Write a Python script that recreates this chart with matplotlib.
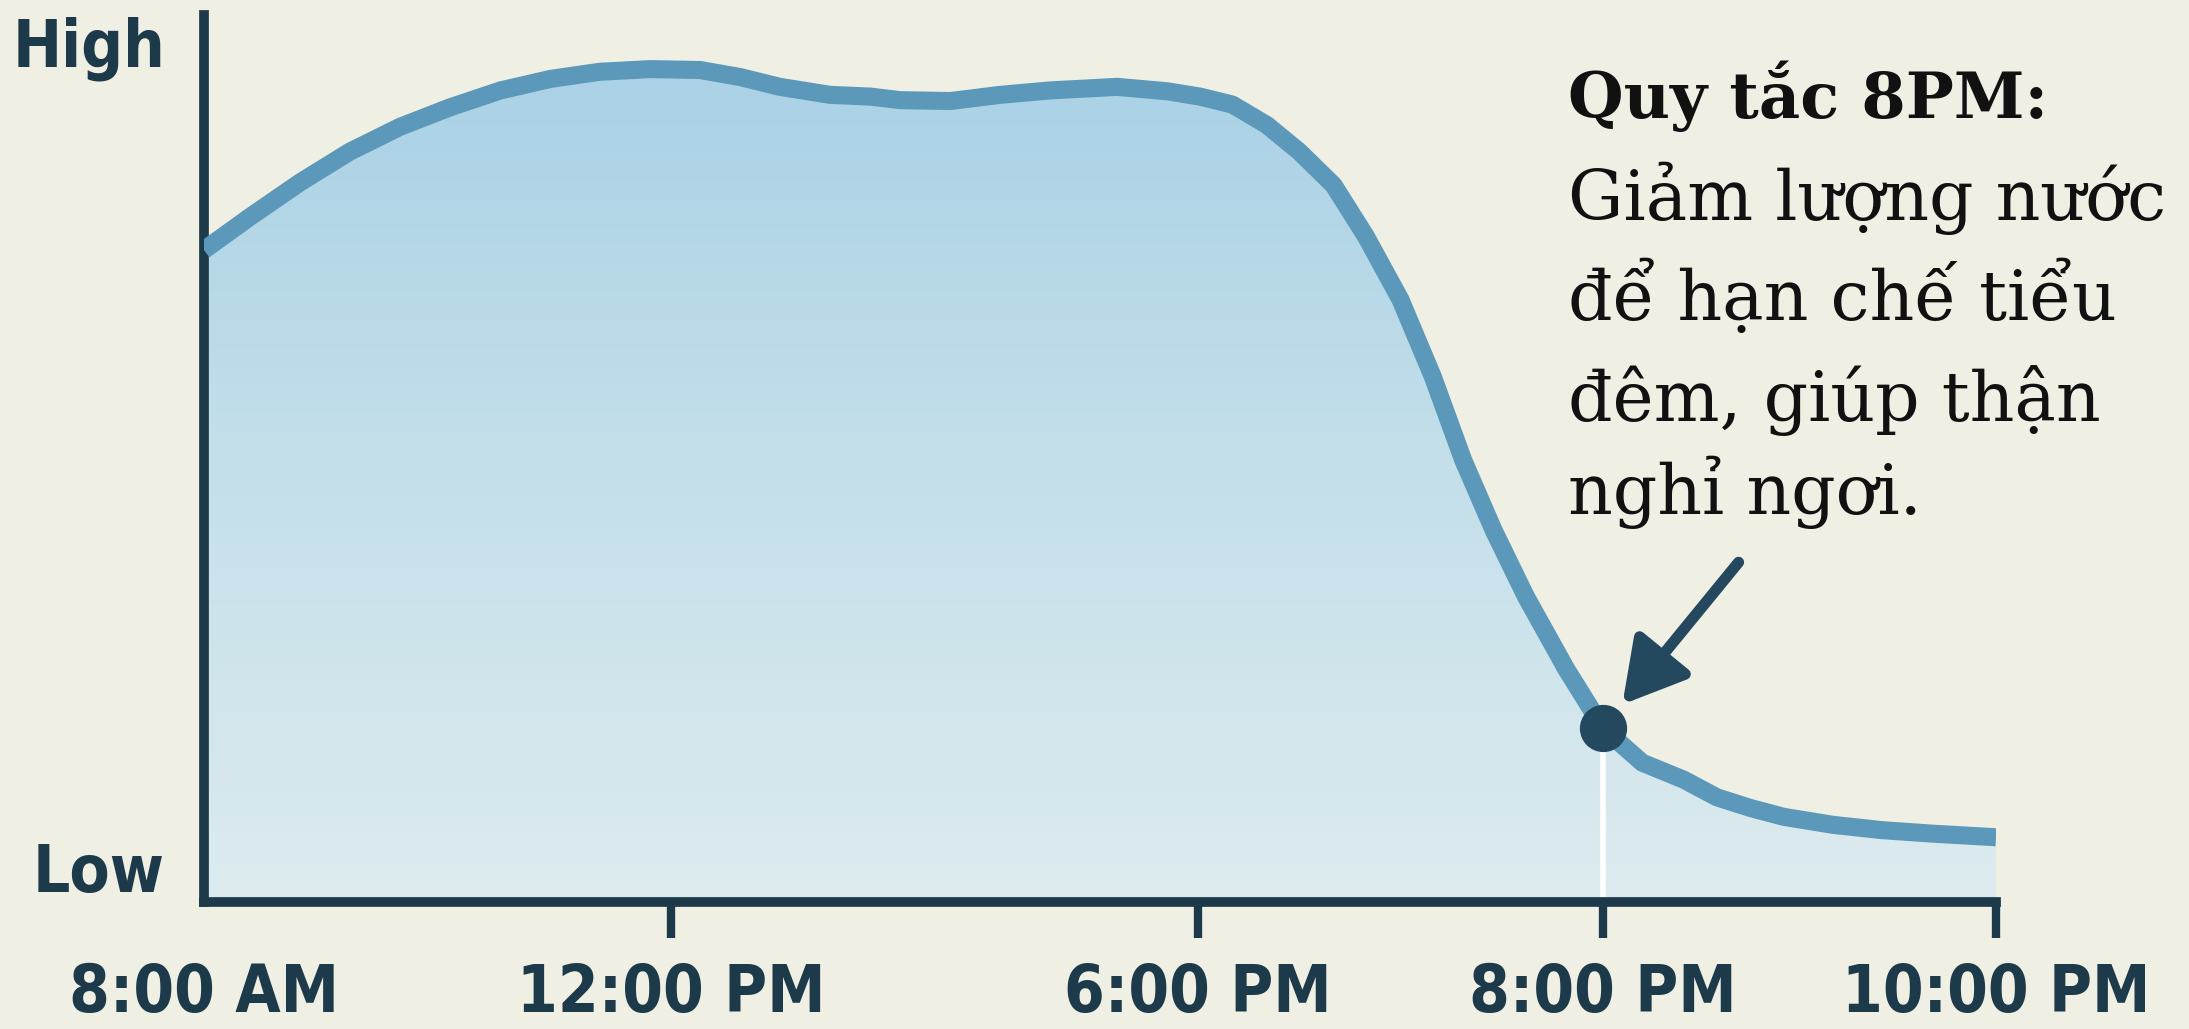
import numpy as np
import matplotlib
matplotlib.use("Agg")
import matplotlib.pyplot as plt
from matplotlib import font_manager as fm
from matplotlib.colors import LinearSegmentedColormap

# data (hours of the day, relative level 0-100)
hours = [8.0, 8.39, 8.82, 9.25, 9.68, 10.11, 10.54, 10.97, 11.39, 11.82,
         12.33, 12.79, 13.24, 13.81, 14.27, 14.61, 15.18, 15.75, 16.32, 17.08,
         17.65, 18.01, 18.17, 18.34, 18.50, 18.67, 18.83, 19.00, 19.16, 19.31,
         19.46, 19.62, 19.82, 20.0, 20.20, 20.41, 20.58, 20.75, 20.92, 21.17,
         21.42, 21.68, 22.0]
level = [73.5, 77.2, 81.1, 84.6, 87.4, 89.6, 91.5, 92.8, 93.6, 93.9,
         93.8, 93.0, 91.9, 91.0, 90.8, 90.4, 90.3, 91.0, 91.5, 91.9,
         91.4, 90.8, 89.9, 87.6, 84.6, 80.8, 75.0, 67.9, 59.2, 49.8,
         41.9, 34.4, 26.2, 19.6, 15.7, 13.8, 11.8, 10.6, 9.6, 8.7,
         8.1, 7.7, 7.3]
tick_hours = [8, 12, 18, 20, 22]
tick_labels = ["8:00 AM", "12:00 PM", "6:00 PM", "8:00 PM", "10:00 PM"]
ylabels = ["Low", "High"]
ylabel_pos = [3.9, 97.0]
rule_hour = 20
rule_level = 19.6
note_title = "Quy tắc 8PM:"
note_lines = ["Giảm lượng nước", "để hạn chế tiểu", "đêm, giúp thận", "nghỉ ngơi."]

# layout
W, H = 2189, 1029
tick_px = [204, 671, 1198, 1603, 1996]
bg = "#F0EFE3"
dark = "#1C3A4A"
line_col = "#5B98B9"
dot_col = "#24495F"
serif = ["DejaVu Serif", "Liberation Serif"]


def pick_narrow():
    # look for any condensed / narrow sans face, bold preferred
    best, best_score = None, -1
    for f in fm.fontManager.ttflist:
        n = f.name
        if "Serif" in n or "Mono" in n:
            continue
        st = str(f.stretch)
        if not ("Condensed" in n or "Narrow" in n or "condensed" in st):
            continue
        w = f.weight if isinstance(f.weight, int) else (700 if "bold" in str(f.weight) else 400)
        score = 100 - abs(w - 700) / 10
        if f.style != "normal":
            score -= 50
        if score > best_score:
            best, best_score = f.fname, score
    return best


narrow = pick_narrow()
if narrow:
    lab_font = fm.FontProperties(fname=narrow, size=47)
else:
    lab_font = fm.FontProperties(family=["Roboto", "DejaVu Sans"], weight="bold", size=42)

# uneven time axis, piecewise linear like the picture
kh = np.array([0.0] + tick_hours + [30.0])
kp = np.array([tick_px[0] - 8 * 116.75] + tick_px + [tick_px[-1] + 8 * 196.5])


def fwd(h):
    return np.interp(h, kh, kp)


def inv(p):
    return np.interp(p, kp, kh)


fig = plt.figure(figsize=(W / 100, H / 100), dpi=100, facecolor=bg)
ax = fig.add_axes([204 / W, 127 / H, (1996 - 204) / W, (902 - 15) / H])
ax.set_facecolor(bg)
ax.set_xscale("function", functions=(fwd, inv))
ax.set_xlim(8, 22)
ax.set_ylim(0, 100)

# gradient fill under the curve
poly = ax.fill_between(hours, level, 0, color="none", lw=0)
cmap = LinearSegmentedColormap.from_list("fill", ["#DDEBEE", "#C3DFEA", "#A6CFE5"])
grad = np.linspace(0, 1, 256).reshape(-1, 1)
im = ax.imshow(grad, cmap=cmap, origin="lower", extent=[8, 22, 0, 100],
               aspect="auto", zorder=1)
im.set_clip_path(poly.get_paths()[0], transform=ax.transData)

ax.vlines(rule_hour, 0, rule_level, color="white", lw=4, zorder=2)
ax.plot(hours, level, color=line_col, lw=13, solid_capstyle="butt",
        solid_joinstyle="round", zorder=3)
ax.plot(rule_hour, rule_level, "o", ms=33, color=dot_col, zorder=5)

ax.annotate("", xy=(rule_hour, rule_level), xytext=(20.69, 38.3),
            arrowprops=dict(arrowstyle="-|>,head_length=1.5,head_width=0.85",
                            lw=8, color=dot_col, mutation_scale=25,
                            shrinkA=0, shrinkB=22), zorder=6)

for s in ["top", "right"]:
    ax.spines[s].set_visible(False)
for s in ["left", "bottom"]:
    ax.spines[s].set_linewidth(7)
    ax.spines[s].set_color(dark)
    ax.spines[s].set_capstyle("projecting")

ax.set_xticks(tick_hours)
ax.set_xticklabels(tick_labels, fontproperties=lab_font, color=dark)
ax.tick_params(axis="x", length=26, width=6, color=dark, pad=17)
ax.xaxis.get_major_ticks()[0].tick1line.set_visible(False)
ax.set_yticks(ylabel_pos)
ax.set_yticklabels(ylabels, fontproperties=lab_font, color=dark)
ax.tick_params(axis="y", length=0, pad=28)

tx = 1568 / W
fig.text(tx, 1 - 118 / H, note_title, family=serif, weight="bold",
         fontsize=46, color="#111111", va="baseline")
for i, t in enumerate(note_lines):
    fig.text(tx, 1 - [220, 320, 421, 514][i] / H, t, family=serif,
             fontsize=50, color="#111111", va="baseline")

fig.savefig("out.png", dpi=100, facecolor=bg)
